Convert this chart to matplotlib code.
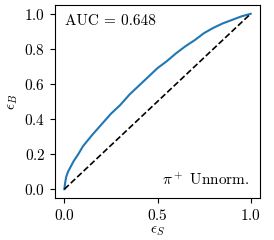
import matplotlib
matplotlib.use("Agg")
import matplotlib.pyplot as plt

plt.rcParams['font.family'] = 'serif'
plt.rcParams['font.serif'] = ['cmr10']
plt.rcParams['mathtext.fontset'] = 'cm'
plt.rcParams['axes.formatter.use_mathtext'] = True
plt.rcParams['font.size'] = 11

eps_s = [0, 0.005, 0.01, 0.02, 0.03, 0.05, 0.075, 0.1, 0.15, 0.2, 0.25, 0.3, 0.35,
         0.4, 0.45, 0.5, 0.55, 0.6, 0.65, 0.7, 0.75, 0.8, 0.85, 0.9, 0.95, 1.0]
eps_b = [0, 0.04, 0.07, 0.10, 0.12, 0.16, 0.20, 0.245, 0.31, 0.37, 0.43, 0.48, 0.54,
         0.59, 0.64, 0.69, 0.73, 0.775, 0.815, 0.85, 0.89, 0.92, 0.945, 0.965, 0.985, 1.0]
diag = [0, 1]
auc_label = "AUC = 0.648"
class_label = r"$\pi^+$ Unnorm."

fig = plt.figure(figsize=(2.74, 2.40), dpi=100)
ax = fig.add_axes([55/274, 1 - 198/240, 205/274, 193/240])
ax.plot(eps_s, eps_b, color='#1f77b4', lw=1.5)
ax.plot(diag, diag, color='black', ls='--', lw=1.2)
ax.set_xticks([0, 0.5, 1.0])
ax.set_yticks([0, 0.2, 0.4, 0.6, 0.8, 1.0])
ax.tick_params(labelsize=11, length=3.5, width=0.8)
ax.set_xlabel(r"$\epsilon_S$", fontsize=11, labelpad=1)
ax.set_ylabel(r"$\epsilon_B$", fontsize=11, labelpad=3)
ax.text(0.05, 0.95, auc_label, transform=ax.transAxes, ha='left', va='top', fontsize=11)
ax.text(0.95, 0.05, class_label, transform=ax.transAxes, ha='right', va='bottom', fontsize=11)
fig.savefig("out.png", dpi=100)
